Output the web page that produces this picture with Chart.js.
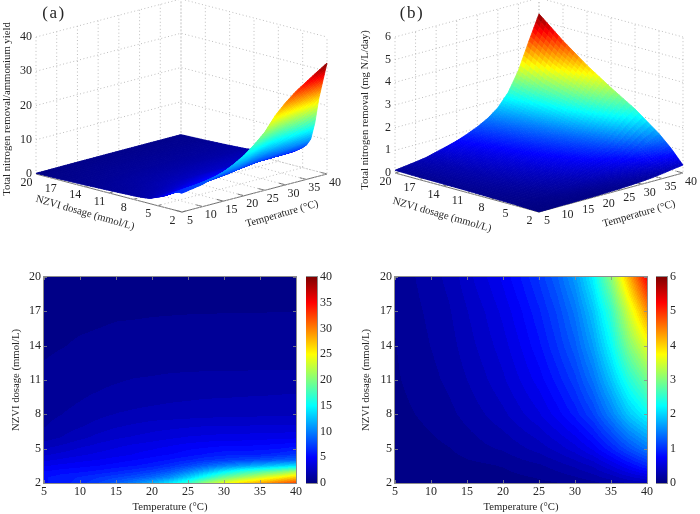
<!DOCTYPE html>
<html><head><meta charset="utf-8">
<style>html,body{margin:0;padding:0;background:#fff;width:700px;height:514px;overflow:hidden}canvas{position:absolute}</style>
<script src="https://cdn.jsdelivr.net/npm/chart.js@4"></script>
</head><body>
<script>
// ---------- data ----------
const temperatureTicks = [5,10,15,20,25,30,35,40];
const dosageTicks = [2,5,8,11,14,17,20];
const yieldTicks = [0,10,20,30,40];
const removalTicks = [0,1,2,3,4,5,6];
const gridTemps = [5,7.5,10,12.5,15,17.5,20,22.5,25,27.5,30,32.5,35,37.5,40];

// Total nitrogen removal / ammonium yield: one row per NZVI dosage
const yieldDoses = [2,2.5,3,3.5,4,4.5,5,6,7,8,10,12,14,17,20];
const yieldD2   = [5.5,6,6.5,7.5,8.5,10,11.8,14.2,17,21,24,26.5,28.5,30.5,32.4];
const yieldD2_5 = [5.5,6,6.3,6.8,7.4,8,9,10.5,13,16,19,21,23,25,27];
const yieldD3   = [5,5.3,5.5,5.8,6.2,6.7,7.3,8.3,10,12.2,14.5,16.5,18,19.5,21.5];
const yieldD3_5 = [4.3,4.6,4.8,5,5.3,5.6,6,6.7,7.6,8.8,10,11,12,13,14];
const yieldD4   = [3.6,3.9,4.2,4.4,4.7,5,5.3,5.7,6.2,6.8,7.2,7.6,8,8.5,9];
const yieldD4_5 = [3,3.3,3.6,3.9,4.1,4.4,4.7,5,5.3,5.7,6,6.1,6.2,6.5,7];
const yieldD5   = [2.5,2.8,3.2,3.5,3.8,4.1,4.3,4.6,4.9,5.1,5.3,5.3,5.4,5.6,5.9];
const yieldD6   = [1.5,1.9,2.3,2.7,3,3.2,3.4,3.6,3.8,3.9,4,4,4.1,4.1,4.2];
const yieldD7   = [1.2,1.5,1.8,2.1,2.4,2.6,2.8,2.9,3,3.1,3.1,3.1,3.2,3.2,3.2];
const yieldD8   = [1.05,1.25,1.45,1.7,1.9,2,2.1,2.15,2.2,2.25,2.3,2.3,2.35,2.35,2.4];
const yieldD10  = [.85,.95,1.1,1.25,1.35,1.45,1.5,1.6,1.65,1.7,1.7,1.75,1.75,1.8,1.8];
const yieldD12  = [.68,.8,.9,1,1.05,1.1,1.13,1.16,1.18,1.19,1.2,1.2,1.21,1.22,1.22];
const yieldD14  = [.52,.6,.7,.75,.8,.83,.85,.87,.88,.9,.91,.92,.93,.94,.95];
const yieldD17  = [.35,.4,.45,.5,.55,.56,.58,.59,.6,.6,.61,.61,.61,.62,.62];
const yieldD20  = [.2,.22,.25,.28,.3,.31,.32,.34,.35,.36,.37,.38,.38,.39,.4];
const yieldRows = [yieldD2,yieldD2_5,yieldD3,yieldD3_5,yieldD4,yieldD4_5,yieldD5,yieldD6,yieldD7,yieldD8,yieldD10,yieldD12,yieldD14,yieldD17,yieldD20];

// Total nitrogen removal (mg N/L/day): one row per NZVI dosage
const removalDoses = [2,3.5,5,8,11,14,17,20];
const removalD2   = [.01,.01,.02,.02,.03,.03,.04,.05,.07,.09,.12,.16,.22,.29,.35];
const removalD3_5 = [.02,.03,.04,.05,.07,.08,.1,.14,.17,.23,.3,.39,.55,.75,.95];
const removalD5   = [.04,.05,.07,.09,.13,.17,.2,.26,.32,.41,.52,.68,.92,1.2,1.45];
const removalD8   = [.06,.09,.12,.16,.22,.28,.35,.45,.55,.7,.88,1.12,1.5,1.93,2.25];
const removalD11  = [.08,.12,.16,.21,.28,.36,.45,.57,.7,.88,1.09,1.42,1.9,2.45,2.9];
const removalD14  = [.09,.14,.19,.24,.33,.42,.52,.66,.82,1.03,1.28,1.68,2.25,3,3.6];
const removalD17  = [.1,.16,.21,.27,.37,.47,.59,.74,.92,1.14,1.44,1.9,2.55,3.5,4.4];
const removalD20  = [.12,.18,.24,.31,.43,.55,.68,.85,1.05,1.3,1.65,2.2,3.05,4.2,5.3];
const removalRows = [removalD2,removalD3_5,removalD5,removalD8,removalD11,removalD14,removalD17,removalD20];

const T_LABEL = 'Temperature (°C)', D_LABEL = 'NZVI dosage (mmol/L)';
const SERIF = '"Liberation Serif","Times New Roman",serif', INK = '#262626';
const TITLE_SIZE = 10.7, TICK_SIZE = 12;

// ---------- helpers ----------
const panelConfig = new WeakMap();
const clamp01 = v => Math.max(0, Math.min(1, v));
function jet(t, levels){
  t = clamp01(t);
  if (levels) t = (Math.min(levels - 1, Math.floor(t * levels)) + .5) / levels;
  const r = clamp01(Math.min(4*t-1.5, -4*t+4.5)), g = clamp01(Math.min(4*t-.5, -4*t+3.5)), b = clamp01(Math.min(4*t+.5, -4*t+2.5));
  return `rgb(${Math.round(r*255)},${Math.round(g*255)},${Math.round(b*255)})`;
}
function sampler(temps, doses, rows){
  const find = (a, v) => { let i = 0; while (i < a.length - 2 && v > a[i+1]) i++; return i; };
  return (T, D) => {
    const i = find(temps, T), j = find(doses, D);
    const u = clamp01((T-temps[i])/(temps[i+1]-temps[i])), w = clamp01((D-doses[j])/(doses[j+1]-doses[j]));
    return (rows[j][i]*(1-u)+rows[j][i+1]*u)*(1-w) + (rows[j+1][i]*(1-u)+rows[j+1][i+1]*u)*w;
  };
}
function flatten(temps, doses, rows){
  const out = [];
  doses.forEach((D, j) => temps.forEach((T, i) => out.push({x:T, y:D, v:rows[j][i]})));
  return out;
}
function makeCanvas(left, top, w, h){
  const c = document.createElement('canvas');
  c.width = w; c.height = h;
  c.style.cssText = `left:${left}px;top:${top}px;width:${w}px;height:${h}px`;
  document.body.appendChild(c);
  return c;
}
const baseOptions = {responsive:false, animation:false, devicePixelRatio:1, events:[], plugins:{legend:{display:false}, tooltip:{enabled:false}}};

// ---------- heat map panels ----------
const heatPlugin = {
  id:'heat',
  beforeDatasetsDraw(chart){
    const o = panelConfig.get(chart.canvas), {x, y} = chart.scales, a = chart.chartArea, ctx = chart.ctx;
    const f = sampler(o.temps, o.doses, o.rows);
    for (let px = Math.floor(a.left); px < a.right; px++){
      const T = x.getValueForPixel(px + .5);
      for (let py = Math.floor(a.top); py < a.bottom; py++){
        ctx.fillStyle = jet(f(T, y.getValueForPixel(py + .5)) / o.clim, 64);
        ctx.fillRect(px, py, 1, 1);
      }
    }
  },
  afterDatasetsDraw(chart){
    const {x, y} = chart.scales, a = chart.chartArea, ctx = chart.ctx;
    ctx.save();
    ctx.strokeStyle = 'rgba(140,140,140,.8)'; ctx.lineWidth = 1;
    ctx.beginPath();
    x.ticks.forEach(t => { const p = Math.round(x.getPixelForValue(t.value)) + .5;
      ctx.moveTo(p, a.bottom); ctx.lineTo(p, a.bottom - 3); ctx.moveTo(p, a.top); ctx.lineTo(p, a.top + 3); });
    y.ticks.forEach(t => { const p = Math.round(y.getPixelForValue(t.value)) + .5;
      ctx.moveTo(a.left, p); ctx.lineTo(a.left + 3, p); ctx.moveTo(a.right, p); ctx.lineTo(a.right - 3, p); });
    ctx.stroke();
    ctx.strokeStyle = '#8c8c8c';
    ctx.strokeRect(a.left - .5, a.top - .5, a.right - a.left + 1, a.bottom - a.top + 1);
    ctx.restore();
  }
};
function heatChart(left, temps, doses, rows, clim, leftW, padRight, seriesName){
  const canvas = makeCanvas(left, 260, 350, 254);
  panelConfig.set(canvas, {temps, doses, rows, clim});
  new Chart(canvas, {
    type:'scatter',
    data:{datasets:[{label:seriesName, data:flatten(temps, doses, rows), pointRadius:0, showLine:false}]},
    options:{...baseOptions,
      layout:{padding:{top:17, right:padRight, bottom:0, left:0}},
      scales:{
        x:{type:'linear', min:5, max:40, grid:{display:false, drawTicks:false}, border:{display:false},
           afterFit(s){ s.height = 31; },
           ticks:{stepSize:5, padding:2, maxRotation:0, autoSkip:false, color:INK, font:{family:SERIF, size:TICK_SIZE}},
           title:{display:true, text:T_LABEL, color:INK, font:{family:SERIF, size:TITLE_SIZE}, padding:{top:0, bottom:0}}},
        y:{type:'linear', min:2, max:20, grid:{display:false, drawTicks:false}, border:{display:false},
           afterFit(s){ s.width = leftW; },
           ticks:{stepSize:3, padding:3, autoSkip:false, color:INK, font:{family:SERIF, size:TICK_SIZE}},
           title:{display:true, text:D_LABEL, color:INK, font:{family:SERIF, size:TITLE_SIZE}, padding:{top:10, bottom:0}}}
      }},
    plugins:[heatPlugin]
  });
}
function colorBar(left, top, max, step, name){
  new Chart(makeCanvas(left, 260, 44, 254), {
    type:'bar',
    data:{labels:[name], datasets:[{data:[max], barPercentage:1, categoryPercentage:1, borderWidth:0,
      backgroundColor(c){
        const a = c.chart.chartArea;
        if (!a) return '#00f';
        const g = c.chart.ctx.createLinearGradient(0, a.bottom, 0, a.top);
        [[0,'#000080'],[1/8,'#0000ff'],[3/8,'#00ffff'],[5/8,'#ffff00'],[7/8,'#ff0000'],[1,'#800000']].forEach(s => g.addColorStop(s[0], s[1]));
        return g;
      }}]},
    options:{...baseOptions,
      layout:{padding:{top:17, bottom:31}},
      scales:{
        x:{display:false},
        y:{position:'right', min:0, max, grid:{display:false, drawTicks:false}, border:{display:false},
           afterFit(s){ s.width = 33; },
           ticks:{stepSize:step, padding:3, color:INK, font:{family:SERIF, size:TICK_SIZE}}}
      }},
    plugins:[{id:'frame', afterDatasetsDraw(chart){
      const a = chart.chartArea, ctx = chart.ctx;
      ctx.save(); ctx.strokeStyle = '#8c8c8c'; ctx.lineWidth = 1;
      ctx.strokeRect(a.left - .5, a.top - .5, a.right - a.left + 1, a.bottom - a.top + 1);
      ctx.restore();
    }}]
  });
}

// ---------- 3-D surface panels, projected on to hidden linear scales ----------
function projector(v, zMax){
  return (T, D, z) => {
    const u = (T-5)/35, w = (D-2)/18;
    return {x: v.frontX + u*(v.rightX-v.frontX) + w*(v.leftX-v.frontX),
            y: v.frontY + u*(v.rightY-v.frontY) + w*(v.leftY-v.frontY) - z/zMax*v.zPx};
  };
}
const surfacePlugin = {
  id:'surface',
  afterDatasetsDraw(chart){
    const o = panelConfig.get(chart.canvas), {x, y} = chart.scales, ctx = chart.ctx;
    const f = sampler(o.temps, o.doses, o.rows), n = 6;
    const P = (T, D) => { const p = o.proj(T, D, f(T, D)); return [x.getPixelForValue(p.x), y.getPixelForValue(p.y)]; };
    ctx.save();
    ctx.lineWidth = .8; ctx.lineJoin = 'round';
    for (let i = o.temps.length - 2; i >= 0; i--) for (let si = n - 1; si >= 0; si--){
      const T0 = o.temps[i] + (o.temps[i+1]-o.temps[i])*si/n, T1 = o.temps[i] + (o.temps[i+1]-o.temps[i])*(si+1)/n;
      for (let j = o.doses.length - 2; j >= 0; j--) for (let sj = n - 1; sj >= 0; sj--){
        const D0 = o.doses[j] + (o.doses[j+1]-o.doses[j])*sj/n, D1 = o.doses[j] + (o.doses[j+1]-o.doses[j])*(sj+1)/n;
        const c = jet(f((T0+T1)/2, (D0+D1)/2) / o.clim);
        const a = P(T0,D0), b = P(T1,D0), d = P(T1,D1), e = P(T0,D1);
        ctx.fillStyle = c; ctx.strokeStyle = c;
        ctx.beginPath(); ctx.moveTo(a[0],a[1]); ctx.lineTo(b[0],b[1]); ctx.lineTo(d[0],d[1]); ctx.lineTo(e[0],e[1]); ctx.closePath();
        ctx.fill(); ctx.stroke();
      }
    }
    ctx.restore();
    const text = (s, vx, vy, rot, align, font) => {
      ctx.save();
      ctx.translate(x.getPixelForValue(vx), y.getPixelForValue(vy));
      ctx.rotate(rot*Math.PI/180);
      ctx.textAlign = align; ctx.textBaseline = 'middle'; ctx.fillStyle = INK;
      ctx.font = font; ctx.fillText(s, 0, 0);
      ctx.restore();
    };
    const tf = `${TICK_SIZE}px ${SERIF}`, lf = `${TITLE_SIZE}px ${SERIF}`, v = o.view;
    temperatureTicks.forEach(T => { const p = o.proj(T, 2, 0); text(String(T), p.x + 8, p.y + 8.5, 0, 'center', tf); });
    dosageTicks.forEach(D => { const p = o.proj(5, D, 0); text(String(D), p.x - 9.5, p.y + 8.5, 0, 'center', tf); });
    o.zTicks.forEach(z => { const p = o.proj(5, 20, z); text(String(z), p.x - 4, p.y, 0, 'right', tf); });
    text(D_LABEL, v.dTitle[0], v.dTitle[1], 16, 'center', lf);
    text(T_LABEL, v.tTitle[0], v.tTitle[1], -16, 'center', lf);
    text(o.zLabel, v.zTitle[0], v.zTitle[1], -90, 'center', lf);
    ctx.save(); ctx.letterSpacing = '1.5px';
    text(o.tag, v.tag[0], v.tag[1], 0, 'center', `17px ${SERIF}`);
    ctx.restore();
  }
};
function surfaceChart(left, view, temps, doses, rows, zTicks, zMax, clim, zLabel, tag){
  const proj = projector(view, zMax);
  const dotted = pts => ({data:pts, showLine:true, pointRadius:0, borderColor:'#bdbdbd', borderWidth:1, borderDash:[1,2.5]});
  const solid = pts => ({data:pts, showLine:true, pointRadius:0, borderColor:'#6e6e6e', borderWidth:1});
  const sets = [];
  zTicks.forEach(z => sets.push(dotted([proj(5,20,z), proj(40,20,z), proj(40,2,z)])));
  temperatureTicks.forEach(T => sets.push(dotted([proj(T,2,0), proj(T,20,0), proj(T,20,zMax)])));
  dosageTicks.forEach(D => sets.push(dotted([proj(5,D,0), proj(40,D,0), proj(40,D,zMax)])));
  sets.push(solid([proj(5,20,0), proj(5,2,0), proj(40,2,0)]));
  temperatureTicks.forEach(T => sets.push(solid([proj(T,2,0), proj(T,2.8,0)])));
  dosageTicks.forEach(D => sets.push(solid([proj(5,D,0), proj(5.9,D,0)])));
  sets.push({label:zLabel, data:flatten(temps, doses, rows).map(p => ({...proj(p.x, p.y, p.v), T:p.x, D:p.y, v:p.v})), pointRadius:0, showLine:false});
  const canvas = makeCanvas(left, 0, 350, 260);
  panelConfig.set(canvas, {temps, doses, rows, proj, clim, zTicks, zLabel, tag, view});
  new Chart(canvas, {
    type:'scatter',
    data:{datasets:sets},
    options:{...baseOptions,
      scales:{x:{type:'linear', display:false, min:0, max:350}, y:{type:'linear', display:false, min:0, max:260, reverse:true}}},
    plugins:[surfacePlugin]
  });
}

// ---------- build ----------
surfaceChart(0, {frontX:182, frontY:212, rightX:327, rightY:174, leftX:36, leftY:174, zPx:137,
                 dTitle:[85,213], tTitle:[282,214], zTitle:[7,109], tag:[54,14]},
  gridTemps, yieldDoses, yieldRows, yieldTicks, 40, 32.4, 'Total nitrogen removal/ammonium yield', '(a)');
surfaceChart(350, {frontX:189, frontY:212, rightX:333, rightY:173, leftX:45, leftY:173, zPx:136,
                   dTitle:[92,215], tTitle:[289,214], zTitle:[15,110], tag:[62,14]},
  gridTemps, removalDoses, removalRows, removalTicks, 6, 5.3, 'Total nitrogen removal (mg N/L/day)', '(b)');
heatChart(0, gridTemps, yieldDoses, yieldRows, 40, 44, 54, 'Total nitrogen removal/ammonium yield');
heatChart(350, gridTemps, removalDoses, removalRows, 6, 45, 53, 'Total nitrogen removal (mg N/L/day)');
colorBar(306, 260, 40, 5, 'yield');
colorBar(656, 260, 6, 1, 'removal');
</script>
</body></html>
